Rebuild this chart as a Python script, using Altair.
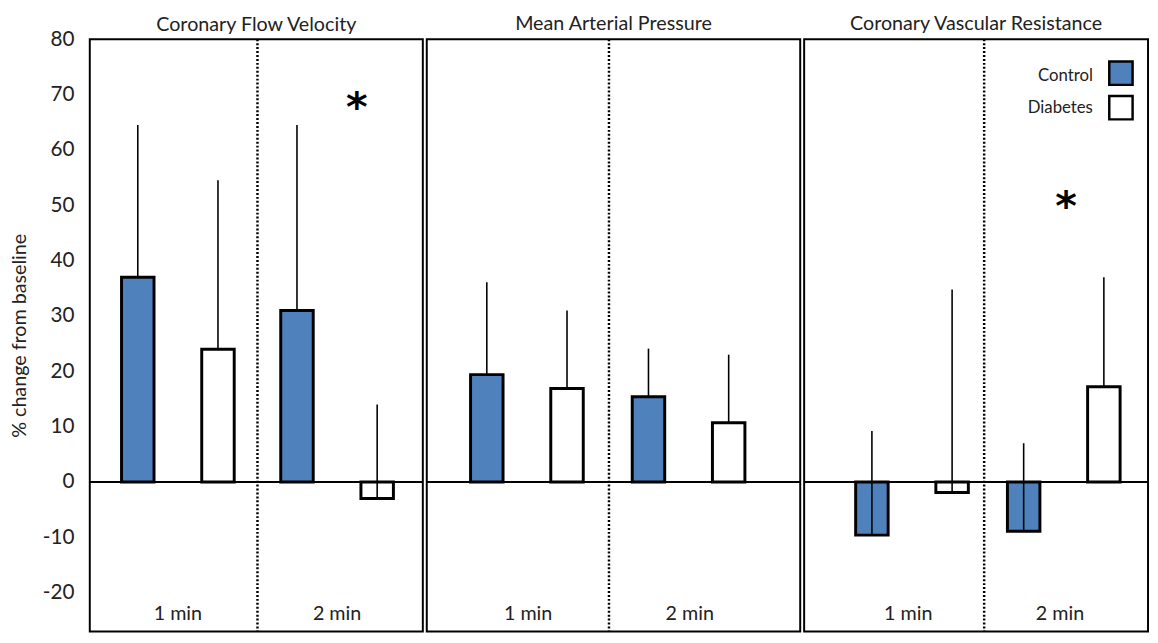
import altair as alt
import pandas as pd

measures = ["Coronary Flow Velocity", "Mean Arterial Pressure", "Coronary Vascular Resistance"]
times = ["1 min", "2 min"]
groups = ["Control", "Diabetes"]

# mean % change, order: (1 min Control, 1 min Diabetes, 2 min Control, 2 min Diabetes)
cfv_mean = [37.0, 24.0, 31.0, -3.0]
cfv_upper = [64.5, 54.5, 64.5, 14.0]
map_mean = [19.4, 16.9, 15.4, 10.7]
map_upper = [36.1, 31.0, 24.1, 23.0]
cvr_mean = [-9.6, -1.9, -8.9, 17.2]
cvr_upper = [9.2, 34.8, 7.0, 37.0]

star_measure = ["Coronary Flow Velocity", "Coronary Vascular Resistance"]
star_time = ["2 min", "2 min"]
star_y = [69, 51]

divider_time = ["2 min"]

y_ticks = [-20, -10, 0, 10, 20, 30, 40, 50, 60, 70, 80]

rows = []
for m, means, ups in [(measures[0], cfv_mean, cfv_upper),
                      (measures[1], map_mean, map_upper),
                      (measures[2], cvr_mean, cvr_upper)]:
    k = 0
    for t in times:
        for g in groups:
            rows.append({"measure": m, "time": t, "group": g, "label": g,
                         "value": means[k], "upper": ups[k]})
            k += 1
df = pd.DataFrame(rows)
stars = pd.DataFrame({"measure": star_measure, "time": star_time, "y": star_y, "s": ["*", "*"]})
divider = pd.DataFrame({"time": divider_time})

FONT = "Lato"
TXT = "#222222"
HEIGHT = 601
widths = [338, 379, 349]
# (x paddingOuter, x align, offset paddingInner, offset paddingOuter)
layout = [(0.046, 0.58, 0.595, 0.29),
          (0.155, 0.41, 0.598, 0.30),
          (0.133, 0.70, 0.584, 0.29)]
star_dx = {"Coronary Flow Velocity": 20, "Coronary Vascular Resistance": 6}
title_offset = [-7, 4, 4]

# legend: symbols (fill) on the right, labels (stroke channel) to their left
sym_legend = alt.Legend(
    title=None, orient="none", legendX=1033, legendY=21,
    symbolType="square", symbolSize=560, symbolStrokeColor="black",
    symbolStrokeWidth=2.5, labelExpr="''", labelFontSize=17,
    rowPadding=0, padding=0,
)
lab_legend = alt.Legend(
    title=None, orient="none", legendX=994, legendY=25,
    symbolType="square", symbolSize=560, symbolOpacity=0, symbolStrokeWidth=0,
    labelFontSize=17, labelFont=FONT, labelColor=TXT, labelAlign="right",
    labelOffset=0, rowPadding=9, padding=0,
)

panels = []
for i, m in enumerate(measures):
    sub = df[df.measure == m]
    xpo, xal, opi, opo = layout[i]
    xscale = alt.Scale(domain=times, paddingInner=0, paddingOuter=xpo, align=xal)
    xaxis = alt.Axis(title=None, labelAngle=0, domain=False, ticks=False,
                     labelPadding=-18, labelBaseline="middle",
                     labelFontSize=20, labelFont=FONT, labelColor=TXT, grid=False)
    x = alt.X("time:N", sort=times, scale=xscale, axis=xaxis)
    xo = alt.XOffset("group:N", sort=groups,
                     scale=alt.Scale(domain=groups, paddingInner=opi, paddingOuter=opo))
    if i == 0:
        yaxis = alt.Axis(values=y_ticks, title="% change from baseline",
                         labelExpr="'' + datum.value",
                         titleFontSize=20, titleFont=FONT, titleFontWeight="normal",
                         titleColor=TXT, titlePadding=13,
                         labelFontSize=21, labelFont=FONT, labelColor=TXT,
                         labelPadding=16, ticks=False, domain=False, grid=False)
    else:
        yaxis = None
    yscale = alt.Scale(domain=[-27, 80], nice=False, zero=False)
    base = alt.Chart(sub)
    zero = base.mark_rule(color="black", strokeWidth=2).encode(
        y=alt.Y("zero:Q", scale=yscale, axis=yaxis)).transform_calculate(zero="0")
    div = alt.Chart(divider).mark_rule(color="black", strokeWidth=2.5, strokeDash=[2, 2]).encode(
        x=alt.X("time:N", sort=times, scale=xscale, axis=xaxis, bandPosition=0))
    bars = base.mark_bar(strokeWidth=3).encode(
        x=x, xOffset=xo,
        y=alt.Y("value:Q", scale=yscale, axis=yaxis),
        y2=alt.Y2("zero:Q"),
        fill=alt.Fill("group:N", scale=alt.Scale(domain=groups, range=["#4f81bd", "#ffffff"]),
                      legend=sym_legend),
        stroke=alt.Stroke("label:N", sort=groups, scale=alt.Scale(range=["black", "black"]),
                          legend=lab_legend),
    ).transform_calculate(zero="0")
    err = base.mark_rule(color="black", strokeWidth=1.6).encode(
        x=x, xOffset=xo, y=alt.Y("value:Q", scale=yscale, axis=yaxis), y2="upper:Q")
    layers = [div, zero, bars, err]
    st = stars[stars.measure == m]
    if len(st):
        star = alt.Chart(st).mark_text(fontSize=42, fontWeight="bold", font="DejaVu Sans",
                                       baseline="middle", dy=8, dx=star_dx[m]).encode(
            x=alt.X("time:N", sort=times, scale=xscale, axis=xaxis),
            y=alt.Y("y:Q", scale=yscale, axis=yaxis), text="s:N")
        layers.append(star)
    p = alt.layer(*layers).properties(
        width=widths[i], height=HEIGHT,
        title=alt.Title(m, fontSize=20, font=FONT, fontWeight="normal", color=TXT,
                        offset=title_offset[i]),
    )
    panels.append(p)

chart = alt.hconcat(*panels, spacing=0).configure(padding=0).configure_view(
    stroke="black", strokeWidth=2
)

chart.save("out.html", embed_options={"renderer": "svg", "actions": False})
